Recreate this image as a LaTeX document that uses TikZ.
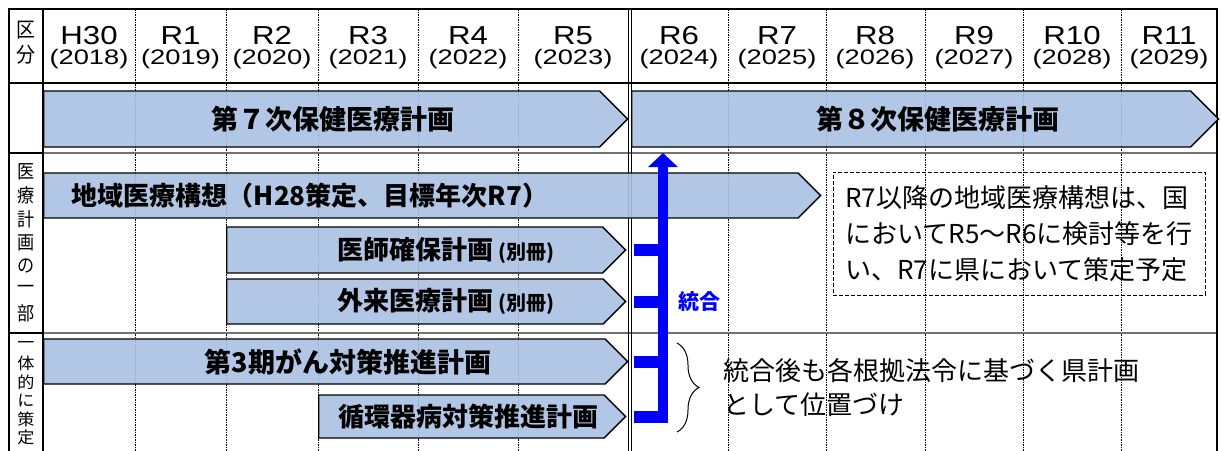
\documentclass[tikz,border=0pt]{standalone}
\usepackage{fontspec}
\setmainfont{Noto Sans CJK JP}
\newfontfamily\headfont{Liberation Sans}
\usetikzlibrary{positioning,arrows.meta,shapes.symbols,decorations.pathreplacing}

\definecolor{planfill}{RGB}{170,192,226}
\definecolor{unite}{RGB}{0,0,255}

\tikzset{
frame/.style={line width=1.4pt, black}, % outer border and solid rules
rowline/.style={line width=1.4pt, black!55},
gridline/.style={line width=0.7pt, dash pattern=on 1.5pt off 1pt},
plan/.style={signal, signal to=east, signal from=nowhere, draw=black, line width=1.4pt,
  fill=planfill, fill opacity=0.9, inner sep=0pt, anchor=west},
planlabel/.style={font=\fontsize{26}{26}\selectfont\bfseries, inner sep=0pt},
erahead/.style={font=\headfont\fontsize{26}{26}\selectfont, xscale=1.2, transform shape, inner sep=0pt},
yearhead/.style={font=\headfont\fontsize{21}{21}\selectfont, xscale=1.3, transform shape, inner sep=0pt},
sidechar/.style={font=\fontsize{19}{19}\selectfont, xscale=0.9, transform shape, inner sep=0pt},
stub/.style={unite, line width=12pt},
notebox/.style={draw, line width=1pt, dash pattern=on 4pt off 2pt, minimum width=372pt,
  minimum height=123pt, align=left, font=\fontsize{26}{36}\selectfont},
}
\newcommand{\bessatsu}{\hspace{5pt}{\fontsize{20}{20}\selectfont(別冊)}}

\begin{document}
\begin{tikzpicture}[x=1pt,y=-1pt]
\useasboundingbox (0,0) rectangle (1221,450);
\clip (0,0) rectangle (1221,450);

% grid of the table
\foreach \gx in {135,226,318,418,518,728,826,925,1023,1121}
  \draw[gridline] (\gx,9) -- (\gx,460);
\draw[rowline] (43,153) -- (1217,153);
\draw[rowline] (43,333) -- (1217,333);
\draw[frame] (9,83) -- (1217,83);
\draw[frame] (9,153) -- (43,153) (9,333) -- (43,333);
\draw[frame] (43,9) -- (43,460);
\draw[line width=1pt] (628.5,9) -- (628.5,460) (631.5,9) -- (631.5,460);
\draw[frame] (9,460) -- (9,9) -- (1217,9) -- (1217,460);

% header
\node[sidechar, font=\fontsize{21}{21}\selectfont] (ku) at (26,30) {区};
\node[sidechar, font=\fontsize{21}{21}\selectfont] (bun) at (26,55) {分};
\foreach \cx/\era/\yr in {89/H30/2018,180.5/R1/2019,272/R2/2020,368/R3/2021,
  468/R4/2022,573/R5/2023,679/R6/2024,777/R7/2025,875/R8/2026,974/R9/2027,
  1072/R10/2028,1169/R11/2029}{
  \node[erahead] (era-\era) at (\cx,35.5) {\era};
  \node[yearhead] (yr-\era) at (\cx,59) {(\yr)};
}

% left column
\foreach \c [count=\i] in {医,療,計,画,の,一,部}
  \node[sidechar] (part-\i) at (26,148.5+23.5*\i) {\c};
\foreach \c [count=\i] in {一,体,的,に,策,定}
  \node[sidechar, yscale=0.85] (joint-\i) at (26,326.5+18.5*\i) {\c};

% plans
\node[plan, minimum width=584pt, minimum height=56pt] (plan7) at (43,119) {};
\node[plan, minimum width=587pt, minimum height=56pt] (plan8) at (631,119) {};
\node[plan, minimum width=777pt, minimum height=45pt] (vision) at (43,195.5) {};
\node[plan, minimum width=399pt, minimum height=46pt] (doctor) at (226,250) {};
\node[plan, minimum width=399pt, minimum height=45pt] (outpt) at (226,301.5) {};
\node[plan, minimum width=584pt, minimum height=45pt] (cancer) at (43,361.5) {};
\node[plan, minimum width=307pt, minimum height=43pt] (cardio) at (318,416.5) {};

\node[planlabel, font=\fontsize{27}{27}\selectfont\bfseries] at (333,119) {第７次保健医療計画};
\node[planlabel, font=\fontsize{27}{27}\selectfont\bfseries] at (938,119) {第８次保健医療計画};
\node[planlabel] at (310,195.5) {地域医療構想（H28策定、目標年次R7）};
\node[planlabel] at (446,250) {医師確保計画\bessatsu};
\node[planlabel] at (446,301.5) {外来医療計画\bessatsu};
\node[planlabel, font=\fontsize{27}{27}\selectfont\bfseries] at (348,361.5) {第3期がん対策推進計画};
\node[planlabel] at (468,416.5) {循環器病対策推進計画};

% merge into the 8th plan
\coordinate (trunk) at (663,423);
\coordinate (trunktop) at (663,153);
\draw[stub] ([xshift=7pt]doctor.east) -- (doctor.east -| trunk);
\draw[stub] ([xshift=7pt]outpt.east) -- (outpt.east -| trunk);
\draw[stub] ([xshift=5pt]cancer.east) -- (cancer.east -| trunk);
\draw[stub] ([xshift=7pt]cardio.east) -- (cardio.east -| trunk);
\draw[unite, line width=10.6pt, -{Triangle[length=14pt,width=29pt]}] (trunk) -- (trunktop);
\node[font=\fontsize{21}{21}\selectfont\bfseries, text=unite, inner sep=0pt] (merge) at (699,302) {統合};

% notes
\node[notebox] (note) at (1019,233.5) {R7以降の地域医療構想は、国\\においてR5～R6に検討等を行\\い、R7に県において策定予定};
\draw[line width=1pt, decorate, decoration={brace, amplitude=22pt, aspect=0.5}] (677,343) -- (677,432);
\node[anchor=west, align=left, inner sep=0pt, font=\fontsize{26}{34}\selectfont] (basis) at (723,388) {統合後も各根拠法令に基づく県計画\\として位置づけ};
\end{tikzpicture}
\end{document}
